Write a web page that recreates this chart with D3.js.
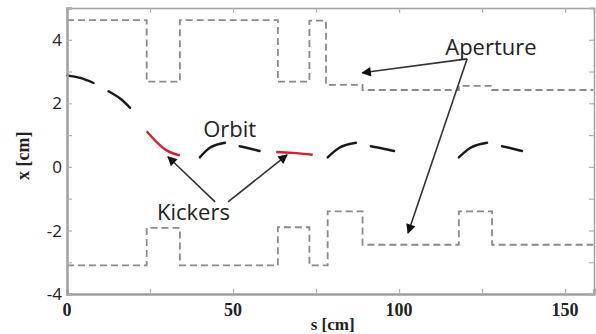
<!DOCTYPE html>
<html>
<head>
<meta charset="utf-8">
<script src="https://cdn.jsdelivr.net/npm/d3@7"></script>
<style>
  body { margin: 0; background: #fff; }
  .ann { font-family: "Open Sans", "DejaVu Sans", sans-serif; fill: #222; }
  .serif { font-family: "Liberation Serif", "DejaVu Serif", serif; fill: #222; }
</style>
</head>
<body>
<div id="chart"></div>
<script>
// aperture outline, [s, x] corner points
var apertureUpper = [[0,4.62],[24,4.62],[24,2.68],[34,2.68],[34,4.62],[63.5,4.62],[63.5,2.68],[73,2.68],
  [73,4.6],[78,4.6],[78,2.58],[89,2.58],[89,2.42],[118,2.42],[118,2.55],[128,2.55],[128,2.42],[158.5,2.42]];
var apertureLower = [[0,-3.1],[24,-3.1],[24,-1.92],[34,-1.92],[34,-3.1],[63.5,-3.1],[63.5,-1.9],[73,-1.9],
  [73,-3.1],[78.5,-3.1],[78.5,-1.4],[89,-1.4],[89,-2.45],[118,-2.45],[118,-1.4],[128,-1.4],[128,-2.45],[158.5,-2.45]];

// orbit pieces (drift dashes in black)
var orbitDrift = [
  [[0,2.88],[4,2.8],[8,2.64]],
  [[12.5,2.38],[16,2.15],[19,1.86]],
  [[40,0.3],[43,0.6],[47.6,0.76]],
  [[52,0.65],[55,0.58],[58,0.5]],
  [[78.5,0.3],[82,0.6],[87,0.76]],
  [[91.5,0.65],[95,0.58],[98.5,0.5]],
  [[118,0.3],[121.5,0.6],[126.5,0.76]],
  [[131,0.65],[134,0.58],[137,0.5]]
];
// orbit inside the kickers (red)
var orbitKick = [
  [[24,1.12],[27,0.78],[30,0.52],[34,0.36]],
  [[63,0.47],[68,0.44],[74,0.38]]
];

var xTicks = [0, 25, 50, 75, 100, 125, 150];
var xLabels = [0, 50, 100, 150];
var yTicks = [-4, -3, -2, -1, 0, 1, 2, 3, 4, 5];
var yLabels = [-4, -2, 0, 2, 4];

// annotations: text and arrows in data coords
var labels = [
  {text: "Aperture", s: 113.9, x: 3.53},
  {text: "Orbit", s: 41, x: 0.94},
  {text: "Kickers", s: 27.1, x: -1.67}
];
var arrows = [
  {from: [120.5, 3.4], to: [88.9, 2.96]},
  {from: [120.5, 3.4], to: [102.7, -2.08]},
  {from: [44.6, -1.1], to: [30.4, 0.32]},
  {from: [48.5, -1.1], to: [66.3, 0.38]}
];

var svgWidth = 596;
var svgHeight = 334;
var margin = {top: 8, right: 2, bottom: 40, left: 67};
var width = svgWidth - margin.left - margin.right;
var height = svgHeight - margin.top - margin.bottom;

var svg = d3.select("#chart").append("svg")
  .attr("width", svgWidth)
  .attr("height", svgHeight);

var defs = svg.append("defs");
defs.append("marker")
  .attr("id", "head")
  .attr("viewBox", "0 0 10 10")
  .attr("refX", 9).attr("refY", 5)
  .attr("markerWidth", 7).attr("markerHeight", 6)
  .attr("markerUnits", "strokeWidth")
  .attr("orient", "auto")
  .append("path")
  .attr("d", "M0,0L10,5L0,10Z")
  .attr("fill", "#111");

var g = svg.append("g")
  .attr("transform", `translate(${margin.left}, ${margin.top})`);

var xScale = d3.scaleLinear().domain([0, 158.7]).range([0, width]);
var yScale = d3.scaleLinear().domain([-4, 5]).range([height, 0]);

// aperture
var stepLine = d3.line().x(d => xScale(d[0])).y(d => yScale(d[1]));
[apertureUpper, apertureLower].forEach(function(ap) {
  g.append("path")
    .attr("d", stepLine(ap))
    .attr("fill", "none")
    .attr("stroke", "#8a8a8a")
    .attr("stroke-width", 1.8)
    .attr("stroke-dasharray", "7,4");
});

// orbit
var curve = d3.line().x(d => xScale(d[0])).y(d => yScale(d[1])).curve(d3.curveMonotoneX);
g.selectAll(".drift").data(orbitDrift).enter().append("path")
  .attr("class", "drift")
  .attr("d", curve)
  .attr("fill", "none")
  .attr("stroke", "#1a1a1a")
  .attr("stroke-width", 2.4)
  .attr("stroke-linecap", "round");
g.selectAll(".kick").data(orbitKick).enter().append("path")
  .attr("class", "kick")
  .attr("d", curve)
  .attr("fill", "none")
  .attr("stroke", "#d42030")
  .attr("stroke-width", 2.4);

// axes frame
var frame = "#a0a0a0";
g.append("g")
  .attr("transform", `translate(0, ${height})`)
  .call(d3.axisBottom(xScale).tickValues(xTicks).tickSize(-5).tickFormat(""))
  .call(a => a.select(".domain").attr("stroke", frame).attr("stroke-width", 2.5));
g.append("g")
  .call(d3.axisTop(xScale).tickValues(xTicks).tickSize(-5).tickFormat(""))
  .call(a => a.select(".domain").attr("stroke", frame).attr("stroke-width", 1.5));
g.append("g")
  .call(d3.axisLeft(yScale).tickValues(yTicks).tickSize(-5).tickFormat(""))
  .call(a => a.select(".domain").attr("stroke", frame).attr("stroke-width", 2.5));
g.append("g")
  .attr("transform", `translate(${width}, 0)`)
  .call(d3.axisRight(yScale).tickValues(yTicks).tickSize(-5).tickFormat(""))
  .call(a => a.select(".domain").attr("stroke", frame).attr("stroke-width", 1.5));
g.selectAll(".tick line").attr("stroke", "#b0b0b0").attr("stroke-width", 1.2);

// tick labels
g.selectAll(".ylab").data(yLabels).enter().append("text")
  .attr("class", "ylab ann")
  .attr("x", -5)
  .attr("y", d => yScale(d))
  .attr("dy", "0.36em")
  .attr("text-anchor", "end")
  .attr("font-size", "17px")
  .text(d => d < 0 ? "-" + Math.abs(d) : d);
g.selectAll(".xlab").data(xLabels).enter().append("text")
  .attr("class", "xlab serif")
  .attr("x", d => xScale(d))
  .attr("y", height + 22)
  .attr("text-anchor", "middle")
  .attr("font-size", "18px")
  .attr("font-weight", "bold")
  .text(d => d);

// axis titles
g.append("text")
  .attr("class", "serif")
  .attr("x", xScale(80))
  .attr("y", height + 36)
  .attr("text-anchor", "middle")
  .attr("font-size", "17px")
  .attr("font-weight", "bold")
  .text("s [cm]");
g.append("text")
  .attr("class", "serif")
  .attr("transform", `translate(${-38}, ${yScale(0.35)}) rotate(-90)`)
  .attr("text-anchor", "middle")
  .attr("font-size", "18px")
  .attr("font-weight", "bold")
  .text("x [cm]");

// annotations
g.selectAll(".arrow").data(arrows).enter().append("line")
  .attr("class", "arrow")
  .attr("x1", d => xScale(d.from[0]))
  .attr("y1", d => yScale(d.from[1]))
  .attr("x2", d => xScale(d.to[0]))
  .attr("y2", d => yScale(d.to[1]))
  .attr("stroke", "#333")
  .attr("stroke-width", 1.6)
  .attr("marker-end", "url(#head)");

g.selectAll(".label").data(labels).enter().append("text")
  .attr("class", "label ann")
  .attr("x", d => xScale(d.s))
  .attr("y", d => yScale(d.x))
  .attr("font-size", "22px")
  .text(d => d.text);
</script>
</body>
</html>
